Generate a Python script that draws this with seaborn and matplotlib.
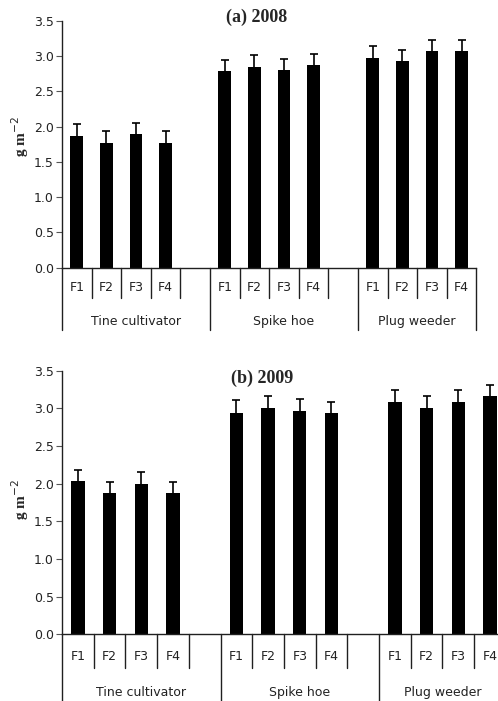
import numpy as np
import pandas as pd
import matplotlib
matplotlib.use("Agg")
import matplotlib.pyplot as plt
import seaborn as sns
from matplotlib.transforms import blended_transform_factory

# ---------------- data ----------------
groups = ["Tine cultivator", "Spike hoe", "Plug weeder"]
levels = ["F1", "F2", "F3", "F4"]
vals_2008 = [1.87, 1.77, 1.90, 1.77, 2.79, 2.85, 2.80, 2.87, 2.97, 2.93, 3.07, 3.07]
err_2008 = [0.17, 0.17, 0.15, 0.16, 0.15, 0.16, 0.16, 0.16, 0.17, 0.15, 0.15, 0.15]
vals_2009 = [2.03, 1.87, 1.99, 1.87, 2.94, 3.01, 2.97, 2.94, 3.09, 3.01, 3.09, 3.16]
err_2009 = [0.15, 0.15, 0.17, 0.15, 0.17, 0.15, 0.15, 0.15, 0.15, 0.15, 0.15, 0.15]
yticks = [0.0, 0.5, 1.0, 1.5, 2.0, 2.5, 3.0, 3.5]
titles = ["(a) 2008", "(b) 2009"]

# slot order: each group's levels, plus an empty slot after the first two groups
order = []
group_slots = []
for gi, g in enumerate(groups):
    slots = [f"{g}|{l}" for l in levels]
    if gi < len(groups) - 1:
        slots.append(f"{g}|")
    group_slots.append(slots)
    order.extend(slots)


def make_df(vals, errs):
    rows = []
    k = 0
    for g in groups:
        for l in levels:
            rows.append({"slot": f"{g}|{l}", "group": g, "level": l,
                         "value": vals[k], "err": errs[k]})
            k += 1
    return pd.DataFrame(rows)


sns.set_style("white")
plt.rcParams["font.family"] = ["DejaVu Sans"]

fig = plt.figure(figsize=(4.98, 7.01), dpi=100)
W, H = 498, 701

geoms = [
    dict(left=62, y0=267.7, ytop=20.7, slot=29.6, bw=0.43, flab=20, glab=54,
         short=30, long=62, title=(257, 17), ylab=(20, 137)),
    dict(left=62, y0=634.3, ytop=370.7, slot=31.7, bw=0.42, flab=22, glab=58,
         short=34, long=80, title=(262, 378), ylab=(20, 500)),
]

datasets = [(vals_2008, err_2008), (vals_2009, err_2009)]
line_col = "#202020"

for (vals, errs), gm, title in zip(datasets, geoms, titles):
    n = len(order)
    ax_w = gm["slot"] * n
    ax_h = gm["y0"] - gm["ytop"]
    ax = fig.add_axes([gm["left"] / W, 1 - gm["y0"] / H, ax_w / W, ax_h / H])
    df = make_df(vals, errs)
    sns.barplot(data=df, x="slot", y="value", order=order, color="black",
                width=gm["bw"], errorbar=None, saturation=1, ax=ax,
                linewidth=0)
    xpos = [order.index(s) for s in df["slot"]]
    eb = ax.errorbar(xpos, df["value"], yerr=[np.zeros(len(df)), df["err"]],
                     fmt="none", ecolor="black", elinewidth=1.2, capsize=3,
                     capthick=1.2, zorder=3)
    caps = eb[1]
    if len(caps) == 2:
        caps[0].set_visible(False)
    ax.set_xlim(-0.5, n - 0.5)
    ax.set_ylim(0, 3.5)
    ax.set_yticks(yticks)
    ax.set_yticklabels([f"{t:.1f}" for t in yticks], fontsize=9, color="#222222")
    ax.set_xticks([])
    ax.set_xlabel("")
    ax.set_ylabel("")
    for s in ["top", "right"]:
        ax.spines[s].set_visible(False)
    for s in ["left", "bottom"]:
        ax.spines[s].set_color(line_col)
        ax.spines[s].set_linewidth(1.0)
    ax.tick_params(axis="y", direction="out", length=4, width=0.8,
                   color="#555555", pad=2, left=True)

    trans = blended_transform_factory(ax.transData, ax.transAxes)
    group_bounds = {-0.5}
    pos = 0
    for slots in group_slots:
        pos += len(slots)
        group_bounds.add(pos - 0.5)
    for i in range(n + 1):
        b = i - 0.5
        depth = gm["long"] if b in group_bounds else gm["short"]
        ax.plot([b, b], [0, -depth / ax_h], transform=trans, color=line_col,
                lw=1.0, clip_on=False)
    for s in order:
        lab = s.split("|")[1]
        if lab:
            ax.text(order.index(s), -gm["flab"] / ax_h, lab, transform=trans,
                    ha="center", va="center", fontsize=9, color="#222222")
    for g, slots in zip(groups, group_slots):
        c = np.mean([order.index(s) for s in slots])
        ax.text(c, -gm["glab"] / ax_h, g, transform=trans, ha="center",
                va="center", fontsize=9, color="#222222")

    fig.text(gm["title"][0] / W, 1 - gm["title"][1] / H, title,
             ha="center", va="center", fontsize=13, fontweight="bold",
             family=["Liberation Serif"])
    fig.text(gm["ylab"][0] / W, 1 - gm["ylab"][1] / H, "g m$^{-2}$",
             ha="center", va="center", rotation=90, fontsize=11,
             fontweight="bold", family=["Liberation Serif"])

fig.savefig("out.png", dpi=100, facecolor="white")
